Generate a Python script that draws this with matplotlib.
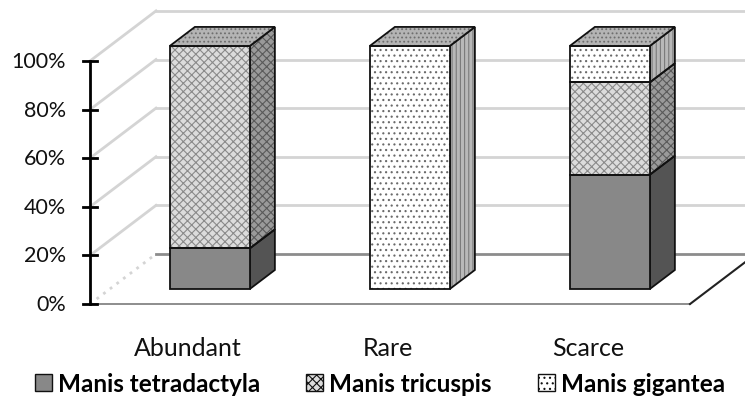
import matplotlib
matplotlib.use("Agg")
import matplotlib.pyplot as plt
from matplotlib.patches import Polygon, Patch

plt.rcParams['font.family'] = ['Lato', 'DejaVu Sans']
plt.rcParams['hatch.linewidth'] = 0.8

# data (percent of each species per abundance class)
categories = ['Abundant', 'Rare', 'Scarce']
species = ['Manis tetradactyla', 'Manis tricuspis', 'Manis gigantea']
tetradactyla = [16.7, 0, 47]
tricuspis = [83.3, 0, 38]
gigantea = [0, 100, 15]
yticks = [0, 20, 40, 60, 80, 100]

# fake 3d: depth offset of the back wall (in category / percent units)
DX, DY = 0.33, 20.6
D0, D1 = 0.30, 0.68      # front and back of the bars, as depth fractions
HALF = 0.2               # half bar width

# face styles: (front, side, top) -> (facecolor, hatch, hatchcolor)
styles = {
    'Manis tetradactyla': [('#888888', None, None), ('#545454', None, None), ('#9a9a9a', None, None)],
    'Manis tricuspis': [('#dcdcdc', 'xxxx', '#8a8a8a'), ('#9a9a9a', 'xxxx', '#5a5a5a'), ('#b4b4b4', '....', '#6e6e6e')],
    'Manis gigantea': [('#ffffff', '...', '#6a6a6a'), ('#b8b8b8', '||||', '#7a7a7a'), ('#b4b4b4', '....', '#6e6e6e')],
}


def pt(x, y, d):
    return (x + d * DX, y + d * DY)


fig = plt.figure(figsize=(7.45, 4.02), dpi=100)
ax = fig.add_axes([0, 0, 1, 1])
ax.set_xlim(-0.95, 2.775)
ax.set_ylim(-39.9, 125.5)
ax.axis('off')

n = len(categories)
x0, x1 = -0.5, n - 0.5

# walls and gridlines
for t in yticks:
    ls = (0, (1, 2)) if t == 0 else '-'
    ax.plot(*zip(pt(x0, t, 0), pt(x0, t, 1)), color='#d4d4d4', lw=2, ls=ls, zorder=1)
    col = '#8c8c8c' if t == 0 else '#d4d4d4'
    ax.plot(*zip(pt(x0, t, 1), pt(x1, t, 1)), color=col, lw=2, zorder=1)
# floor
ax.plot(*zip(pt(x0, 0, 0), pt(x1, 0, 0)), color='#7a7a7a', lw=1.2, zorder=1)
ax.plot(*zip(pt(x1, 0, 0), pt(x1, 0, 1)), color='#222222', lw=1.5, zorder=1)


def face(pts, style, z):
    fc, hatch, hc = style
    if hatch:
        ax.add_patch(Polygon(pts, closed=True, facecolor=fc, hatch=hatch,
                             edgecolor=hc, lw=0, zorder=z))
    else:
        ax.add_patch(Polygon(pts, closed=True, facecolor=fc, lw=0, zorder=z))
    ax.add_patch(Polygon(pts, closed=True, fill=False, edgecolor='#111111',
                         lw=1.3, zorder=z + 0.5))


series = [tetradactyla, tricuspis, gigantea]
for i in range(n):
    bottom = 0
    top_name = None
    for name, vals in zip(species, series):
        v = vals[i]
        if v <= 0:
            continue
        b, t = bottom, bottom + v
        xl, xr = i - HALF, i + HALF
        front = [pt(xl, b, D0), pt(xr, b, D0), pt(xr, t, D0), pt(xl, t, D0)]
        side = [pt(xr, b, D0), pt(xr, b, D1), pt(xr, t, D1), pt(xr, t, D0)]
        face(side, styles[name][1], 3)
        face(front, styles[name][0], 4)
        bottom = t
        top_name = name
    xl, xr = i - HALF, i + HALF
    top = [pt(xl, bottom, D0), pt(xr, bottom, D0), pt(xr, bottom, D1), pt(xl, bottom, D1)]
    face(top, styles[top_name][2], 5)

# value axis
ax.plot([x0, x0], [0, 100], color='black', lw=2, zorder=6)
for t in yticks:
    ax.plot([x0 - 0.037, x0 + 0.037], [t, t], color='black', lw=2, zorder=6)
    ax.text(x0 - 0.12, t, f'{t}%', ha='right', va='center', fontsize=15.5, color='#111111')

# category labels
for i, c in enumerate(categories):
    ax.text(i - 0.01, -18, c, ha='center', va='center', fontsize=18, color='#111111')

# legend
handles = []
for name in species:
    fc, hatch, hc = styles[name][0]
    handles.append(Patch(facecolor=fc, hatch=hatch, edgecolor='#111111', lw=1.0, label=name))
fig.legend(handles=handles, loc='lower center', bbox_to_anchor=(0.51, -0.04), ncol=3,
           frameon=False, prop={'weight': 'bold', 'size': 17.5},
           handlelength=0.7, handleheight=0.7, handletextpad=0.25, columnspacing=1.9)

fig.savefig('out.png', dpi=100)
